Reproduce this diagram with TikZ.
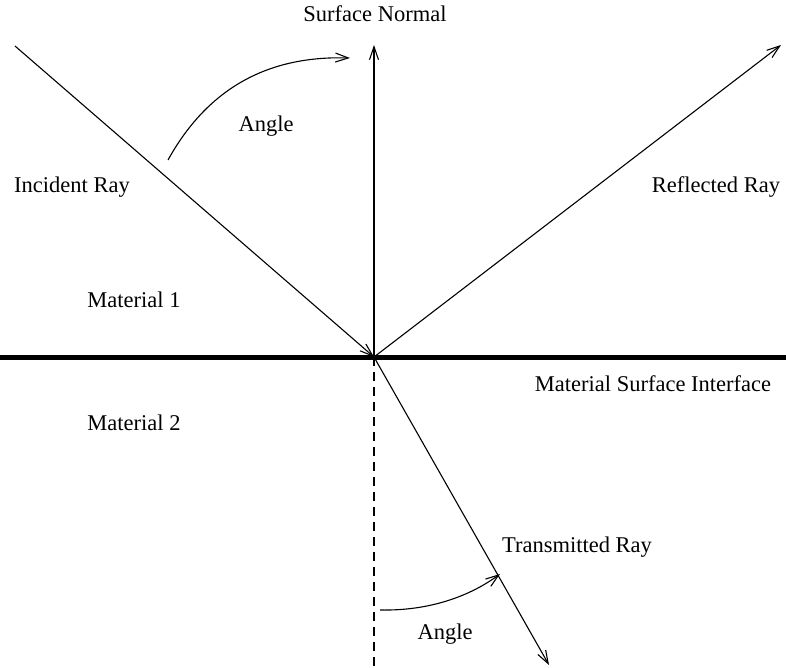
\documentclass[tikz,border=0pt]{standalone}
\usepackage{fontspec}
\setmainfont{Liberation Serif}
\usetikzlibrary{arrows.meta}
\begin{document}
\begin{tikzpicture}[x=1pt,y=-1pt,
  ray/.style={line width=1.1pt,-{Straight Barb[length=13pt,width=9pt,line width=1.1pt]}},
  lbl/.style={font=\fontsize{22.5}{26}\selectfont, inner sep=0pt}]
\useasboundingbox (0,0) rectangle (786,668);
\coordinate (O) at (374,357);
\coordinate (inc) at (15,46);
\coordinate (nrm) at (374,45);
\coordinate (refl) at (781,45);
\coordinate (tr) at (549,665);
\coordinate (dashend) at (374,668);
\coordinate (ifl) at (0,357);
\coordinate (ifr) at (786,357);
\coordinate (a1s) at (168,160);
\coordinate (a1e) at (350,58);
\coordinate (a2s) at (380,610);
\coordinate (a2e) at (500,574);
\draw[line width=5pt] (ifl) -- (ifr);
\draw[ray] (inc) -- (O);
\draw[ray] (O) -- (nrm);
\draw[ray] (O) -- (refl);
\draw[ray] (O) -- (tr);
\draw[line width=1.1pt, dash pattern=on 9pt off 6pt] (O) -- (dashend);
\draw[ray] (a1s) .. controls (215,75) and (285,56) .. (a1e);
\draw[ray] (a2s) .. controls (430,611) and (470,596) .. (a2e);
\node[lbl] (sn) at (375,14) {Surface Normal};
\node[lbl] (ang1) at (266,126) {Angle};
\node[lbl] (ir) at (72,187) {Incident Ray};
\node[lbl] (rr) at (716,187) {Reflected Ray};
\node[lbl] (m1) at (134,300) {Material 1};
\node[lbl] (msi) at (653,384) {Material Surface Interface};
\node[lbl] (m2) at (134,423) {Material 2};
\node[lbl] (trr) at (577,547) {Transmitted Ray};
\node[lbl] (ang2) at (445,634) {Angle};
\end{tikzpicture}
\end{document}
